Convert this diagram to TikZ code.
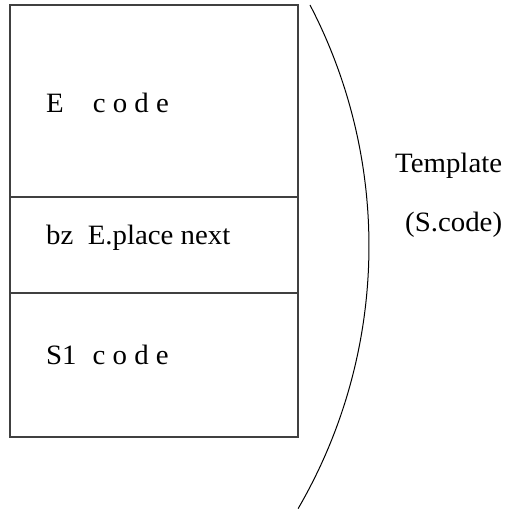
\documentclass[tikz,border=0pt]{standalone}
\usepackage{fontspec}
\setmainfont{Liberation Serif}[FakeStretch=1.03]
\usetikzlibrary{positioning}

\begin{document}
\begin{tikzpicture}[
  x=1pt, y=1pt,
  font=\fontsize{28}{33}\selectfont,
  part/.style={draw=black!75, line width=1.2pt, minimum width=288pt, inner sep=0pt, outer sep=0pt},
  lbl/.style={anchor=base west, inner sep=0pt}]

\useasboundingbox (0,0) rectangle (511,512);

% the three parts of the layout, stacked
\node[part, minimum height=192pt, anchor=north west] (ecode) at (10,507) {};
\node[part, minimum height=96pt, below=0pt of ecode] (branch) {};
\node[part, minimum height=144pt, below=0pt of branch] (s1code) {};

\node[lbl] (ecodetxt) at (46,399) {E\hspace{29pt}c o d e};
\node[lbl] (branchtxt) at (46,267) {bz~ E.place next};
\node[lbl] (s1codetxt) at (46,147) {S1\hspace{16pt}c o d e};

% bracket round the whole template
\draw[line width=1pt] (310,507) arc[start angle=27.5, end angle=-30.2, radius=522];

\node[lbl] (tmpl) at (395,339) {Template};
\node[lbl] (scode) at (405,280) {(S.code)};

\end{tikzpicture}
\end{document}
